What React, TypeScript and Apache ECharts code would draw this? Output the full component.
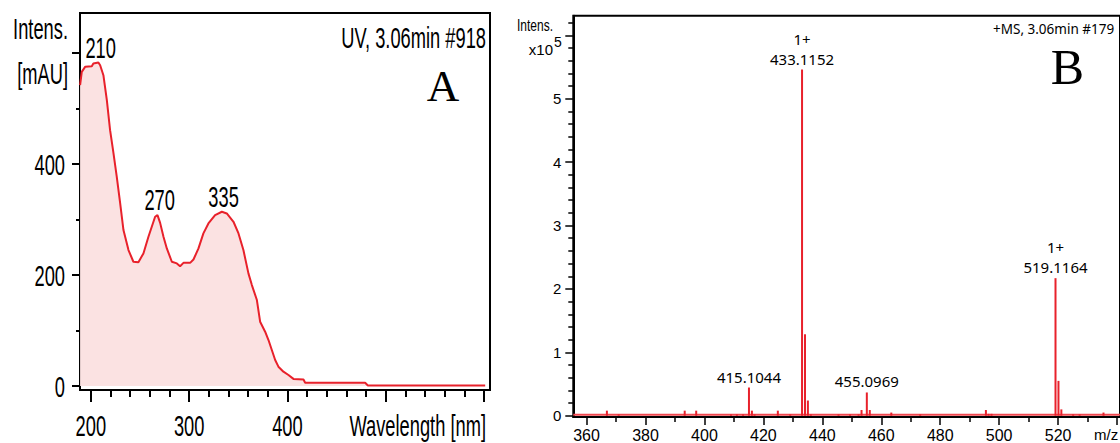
import React, { useEffect, useRef } from "react";
import * as echarts from "echarts";

// ---------- Panel A: UV spectrum ----------
const uvWavelength = [189.1, 190.8, 194.2, 201, 202.6, 207.7, 209.5, 212.8, 216.3, 219.6, 223, 226.4, 229.8, 233.2, 238.3, 243.3, 248.4, 253.5, 258.6, 262, 265.4, 267.8, 270.5, 273.9, 277.3, 282.4, 287.5, 290.8, 294.2, 301, 304.4, 309.5, 314.5, 319.6, 326.4, 333.3, 338.3, 345.1, 350.2, 355.2, 360.3, 363.8, 368.9, 372.2, 377.3, 380.7, 384.1, 387.5, 390.8, 395.9, 401, 406.1, 416.3, 418, 479, 481.8, 601.1];
const uvIntensity = [542, 566, 575, 576, 581, 583, 578, 560, 515, 461, 420, 377, 330, 281, 245, 224, 223, 239, 269, 287, 305, 308, 294, 269, 248, 224, 221, 216, 222, 222, 228, 248, 275, 293, 308, 314, 311, 296, 275, 245, 203, 182, 155, 116, 98, 83, 65, 47, 35, 26, 20, 13, 12, 6, 6, 1, 1];
const uvPeakWavelength = [210, 270, 335];
const uvPeakIntensity = [583, 308, 314];
const uvPeakText = ["210", "270", "335"];
const uvTickValues = [200, 300, 400, 500, 600];
const uvTickLabels = [200, 300, 400];
const uvYTickValues = [0, 200, 400, 600];
const uvYTickLabels = [0, 200, 400];

// ---------- Panel B: mass spectrum (intensity x10^5) ----------
const msMz = [366.9, 370.9, 393.3, 397.2, 409.0, 411.0, 413.1, 415.1044, 416.1, 417.0, 424.9, 429.1, 433.1152, 434.12, 435.1, 436.1, 445.5, 449.4, 452.3, 453.3, 455.0969, 456.1, 463.4, 473.2, 495.5, 496.4, 497.4, 519.1164, 520.12, 521.1, 525.1, 527.3, 535.4];
const msIntensity = [0.08, 0.02, 0.08, 0.08, 0.02, 0.02, 0.02, 0.445, 0.08, 0.02, 0.08, 0.02, 5.46, 1.285, 0.24, 0.02, 0.02, 0.02, 0.02, 0.09, 0.367, 0.09, 0.05, 0.02, 0.09, 0.03, 0.03, 2.17, 0.55, 0.1, 0.02, 0.02, 0.05];
const msAnnotatedMz = [415.1044, 433.1152, 455.0969, 519.1164];
const msAnnotationText = ["415.1044", "1+\n433.1152", "455.0969", "1+\n519.1164"];
const msBaselineMz = [355.5, 541];
const msBaselineValue = [0.014, 0.014];
const msTickValues = [360, 380, 400, 420, 440, 460, 480, 500, 520, 540];
const msTickLabels = [360, 380, 400, 420, 440, 460, 480, 500, 520];
const msYTickValues = [0, 1, 2, 3, 4, 5, 6];
const msYTickLabels = [0, 1, 2, 3, 4, 5];

const RED = "#e8212b";
const COND = "'Liberation Sans', Arial, sans-serif";
const SERIF = "'Liberation Serif', serif";
const ARIAL = "'Liberation Sans', sans-serif";
const CALIBRI = "'Noto Sans', sans-serif";
const SQUEEZE = 0.61;

export default function App() {
  const ref = useRef<HTMLDivElement>(null);
  useEffect(() => {
    if (!ref.current) return;
    const chart = echarts.init(ref.current, undefined, { renderer: "svg" });
    const black = { color: "#000", width: 2 };
    const thin = { color: "#000", width: 1.5 };
    const option: any = {
      animation: false,
      grid: [
        { left: 80, top: 13, width: 410, height: 377, show: true, borderColor: "#000", borderWidth: 2, backgroundColor: "transparent" },
        { left: 573.3, top: 15.7, width: 553.7, height: 402, show: true, borderColor: "#000", borderWidth: 2, backgroundColor: "transparent" },
      ],
      xAxis: [
        {
          gridIndex: 0, type: "value", min: 189, max: 606, splitNumber: 4,
          axisLine: { show: true, onZero: false, lineStyle: black },
          axisTick: { show: true, customValues: uvTickValues, length: 12, lineStyle: black },
          minorTick: { show: true, splitNumber: 5, length: 7, lineStyle: black },
          axisLabel: { show: false },
          splitLine: { show: false },
        },
        {
          gridIndex: 1, type: "value", min: 355.5, max: 541, splitNumber: 9,
          axisLine: { show: true, onZero: false, lineStyle: black },
          axisTick: { show: true, customValues: msTickValues, length: 8, lineStyle: thin },
          minorTick: { show: true, splitNumber: 2, length: 5, lineStyle: thin },
          axisLabel: { customValues: msTickLabels, fontSize: 16, fontFamily: ARIAL, color: "#000", margin: 10 },
          splitLine: { show: false },
        },
      ],
      yAxis: [
        {
          gridIndex: 0, type: "value", min: -7, max: 672, splitNumber: 3,
          axisLine: { show: true, onZero: false, lineStyle: black },
          axisTick: { show: true, customValues: uvYTickValues, length: 8, lineStyle: black },
          minorTick: { show: true, splitNumber: 2, length: 4, lineStyle: black },
          axisLabel: { show: false },
          splitLine: { show: false },
        },
        {
          gridIndex: 1, type: "value", min: -0.02, max: 6.31, splitNumber: 6,
          axisLine: { show: true, onZero: false, lineStyle: black },
          axisTick: { show: true, customValues: msYTickValues, length: 8, lineStyle: thin },
          minorTick: { show: true, splitNumber: 5, length: 5, lineStyle: thin },
          axisLabel: { customValues: msYTickLabels, fontSize: 15, fontFamily: ARIAL, color: "#000", margin: 12 },
          splitLine: { show: false },
        },
      ],
      series: [
        {
          type: "line", xAxisIndex: 0, yAxisIndex: 0, showSymbol: false, silent: true,
          data: uvWavelength.map((w, i) => [w, uvIntensity[i]]),
          lineStyle: { color: RED, width: 2 },
          areaStyle: { color: "#fbe2e2", opacity: 1 },
          z: 2,
        },
        {
          type: "line", xAxisIndex: 1, yAxisIndex: 1, showSymbol: false, silent: true,
          data: msBaselineMz.map((m, i) => [m, msBaselineValue[i]]),
          lineStyle: { color: "#f0474f", width: 2 },
          z: 1,
        },
        {
          type: "bar", xAxisIndex: 1, yAxisIndex: 1, barWidth: 2, silent: true,
          itemStyle: { color: RED },
          data: msMz.map((m, i) => {
            const k = msAnnotatedMz.indexOf(m);
            const item: any = { value: [m, msIntensity[i]] };
            if (k >= 0) {
              item.label = {
                show: true, position: "top", distance: 1, formatter: msAnnotationText[k],
                fontSize: 15, fontFamily: CALIBRI, color: "#000", lineHeight: 20, align: "center",
              };
            }
            return item;
          }),
          z: 3,
        },
      ],
    };
    chart.setOption(option);

    const squeezed = (text: string, x: number, y: number, align: string) => ({
      type: "text", x, y, scaleX: SQUEEZE, silent: true,
      style: { text, align, verticalAlign: "middle", fontSize: 30, fontFamily: COND, fill: "#000" },
    });
    const graphics: any[] = [];
    // Panel A tick labels, placed through the axes' own scales
    uvTickLabels.forEach((v) => {
      const px = chart.convertToPixel({ xAxisIndex: 0 }, v) as number;
      graphics.push(squeezed(String(v), px, 426, "center"));
    });
    uvYTickLabels.forEach((v) => {
      const py = chart.convertToPixel({ yAxisIndex: 0 }, v) as number;
      graphics.push(squeezed(String(v), 65, py + 1, "right"));
    });
    // Panel A peak labels
    uvPeakWavelength.forEach((w, i) => {
      const p = chart.convertToPixel({ gridIndex: 0 }, [w, uvPeakIntensity[i]]) as number[];
      graphics.push(squeezed(uvPeakText[i], p[0], p[1] - 15, "center"));
    });
    graphics.push(
      squeezed("Intens.", 68, 29, "right"),
      squeezed("[mAU]", 68, 74, "right"),
      squeezed("UV, 3.06min #918", 486, 38, "right"),
      squeezed("Wavelength [nm]", 486, 426, "right"),
      { type: "text", x: 443, y: 86, silent: true, style: { text: "A", align: "center", verticalAlign: "middle", fontSize: 45, fontFamily: SERIF, fill: "#000" } },
      { type: "text", x: 553, y: 25, scaleX: 0.75, silent: true, style: { text: "Intens.", align: "right", verticalAlign: "middle", fontSize: 16, fontFamily: ARIAL, fill: "#000" } },
      { type: "text", x: 553, y: 49, silent: true, style: { text: "x10", align: "right", verticalAlign: "middle", fontSize: 15, fontFamily: ARIAL, fill: "#000" } },
      { type: "text", x: 554, y: 42, silent: true, style: { text: "5", align: "left", verticalAlign: "middle", fontSize: 14, fontFamily: ARIAL, fill: "#000" } },
      { type: "text", x: 993, y: 29, silent: true, style: { text: "+MS, 3.06min #179", align: "left", verticalAlign: "middle", fontSize: 13.5, fontFamily: CALIBRI, fill: "#000" } },
      { type: "text", x: 1067.5, y: 67, silent: true, style: { text: "B", align: "center", verticalAlign: "middle", fontSize: 50, fontFamily: SERIF, fill: "#000" } },
      { type: "text", x: 1094, y: 434, silent: true, style: { text: "m/z", align: "left", verticalAlign: "middle", fontSize: 15, fontFamily: ARIAL, fill: "#000" } },
    );
    chart.setOption({ graphic: graphics });
    return () => chart.dispose();
  }, []);
  return (
    <div
      ref={ref}
      style={{ position: "fixed", left: 0, top: 0, width: 1120, height: 443, background: "#fff" }}
    />
  );
}
